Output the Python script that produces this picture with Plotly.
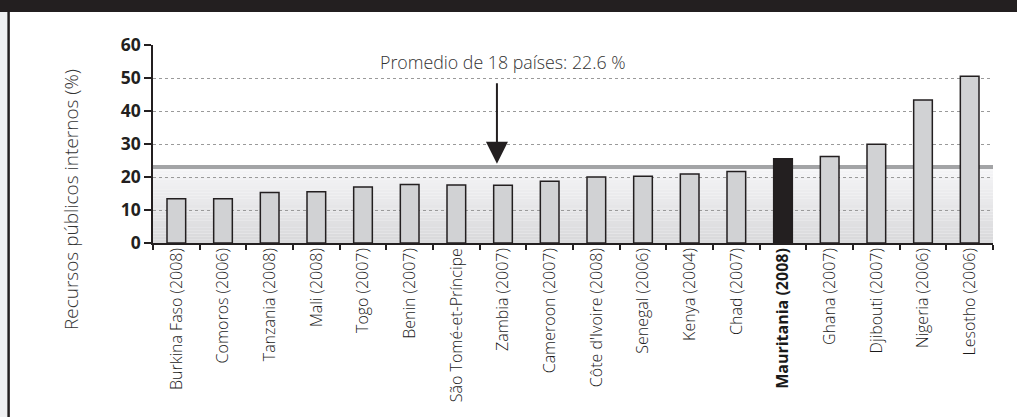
import plotly.graph_objects as go

categories = ["Burkina Faso (2008)", "Comoros (2006)", "Tanzania (2008)", "Mali (2008)",
              "Togo (2007)", "Benin (2007)", "São Tomé-et-Príncipe", "Zambia (2007)",
              "Cameroon (2007)", "Côte d'Ivoire (2008)", "Senegal (2006)", "Kenya (2004)",
              "Chad (2007)", "Mauritania (2008)", "Ghana (2007)", "Djibouti (2007)",
              "Nigeria (2006)", "Lesotho (2006)"]
values = [13.4, 13.4, 15.3, 15.5, 17.0, 17.7, 17.6, 17.5, 18.7, 20.0, 20.2, 20.9,
          21.7, 25.5, 26.2, 29.9, 43.3, 50.5]
highlight = "Mauritania (2008)"
avg_label = "Promedio de 18 países: 22.6 %"
avg_line = 23.0
y_ticks = [0, 10, 20, 30, 40, 50, 60]
y_title = "Recursos públicos internos (%)"

FONT = "Open Sans"
DARK = "#231f20"

# plot-area geometry in page pixels
L, R, T, B = 153, 993, 45, 243
W, H = 1017, 417
PW, PH = R - L, B - T

def px(x):
    return (x - L) / PW

def py(y):
    return (B - y) / PH

fills = [DARK if c == highlight else "#d1d2d4" for c in categories]
ticktext = [f"<b>{c}</b>" if c == highlight else c for c in categories]

fig = go.Figure()
fig.add_trace(go.Bar(
    x=categories, y=values, width=0.4,
    marker=dict(color=fills, line=dict(color=DARK, width=1.5)),
    hoverinfo="x+y",
))

shapes = []
n = 24
for i in range(n):
    y0 = avg_line * i / n
    y1 = avg_line * (i + 1) / n
    t = i / (n - 1)
    g = int(round(0xd9 + (0xf5 - 0xd9) * t))
    col = f"rgb({g},{g},{min(255, g + 2)})"
    shapes.append(dict(type="rect", xref="paper", yref="y", x0=0, x1=1, y0=y0, y1=y1,
                       fillcolor=col, line=dict(width=0), layer="below"))
shapes.append(dict(type="line", xref="paper", yref="y", x0=0, x1=1, y0=avg_line, y1=avg_line,
                   line=dict(color="#a3a4a6", width=4), layer="between"))
# page decoration: top dark band, left strip, left border
shapes.append(dict(type="rect", xref="paper", yref="paper", x0=px(-5), x1=px(W + 5),
                   y0=py(12), y1=py(-5),
                   fillcolor=DARK, line=dict(width=0), layer="above"))
shapes.append(dict(type="rect", xref="paper", yref="paper", x0=px(-5), x1=px(7.3),
                   y0=py(W), y1=py(12),
                   fillcolor="#eff0f2", line=dict(width=0), layer="above"))
shapes.append(dict(type="line", xref="paper", yref="paper", x0=px(8.6), x1=px(8.6),
                   y0=py(W), y1=py(12),
                   line=dict(color=DARK, width=2.5), layer="above"))

annotations = [
    dict(x=6.87, y=24.0, xref="x", yref="y", text="", showarrow=True, ax=0, ay=-82,
         arrowhead=2, arrowsize=2.2, arrowwidth=2, arrowcolor=DARK, standoff=0),
    dict(x=7.0, y=54.9, xref="x", yref="y", text=avg_label, showarrow=False,
         font=dict(family=FONT, size=17.8, color="#333333", weight=300)),
    dict(x=px(71), y=py(200), xref="paper", yref="paper", text=y_title,
         xanchor="center", yanchor="middle",
         textangle=-90, showarrow=False,
         font=dict(family=FONT, size=19, color="#333333", weight=300)),
]

fig.update_layout(
    width=W, height=H,
    margin=dict(l=L, r=W - R, t=T, b=H - B),
    paper_bgcolor="white", plot_bgcolor="white",
    showlegend=False, bargap=0.6,
    shapes=shapes, annotations=annotations,
    font=dict(family=FONT, color=DARK),
)
fig.update_xaxes(
    type="category", tickmode="array", tickvals=categories, ticktext=ticktext,
    tickangle=-90, tickfont=dict(family=FONT, size=16, color="#1a1a1a", weight=300),
    ticklabelstandoff=-3,
    showline=True, linecolor=DARK, linewidth=1.5,
    ticks="outside", tickson="boundaries", ticklen=5, tickcolor=DARK, tickwidth=1.5,
    showgrid=False, range=[-0.5, len(categories) - 0.5],
)
fig.update_yaxes(
    range=[0, 60], tickmode="array", tickvals=y_ticks,
    ticktext=[f"<b>{v}</b>" for v in y_ticks],
    tickfont=dict(family=FONT, size=17.5, color=DARK),
    showline=True, linecolor=DARK, linewidth=1.5,
    ticks="outside", ticklen=7, tickcolor=DARK, tickwidth=1.5,
    showgrid=True, gridcolor="#9a9a9a", griddash="dot", gridwidth=1,
    zeroline=False,
)

fig.write_html("out.html", config={"displayModeBar": False},
               post_script="document.body.style.margin='0px';")
